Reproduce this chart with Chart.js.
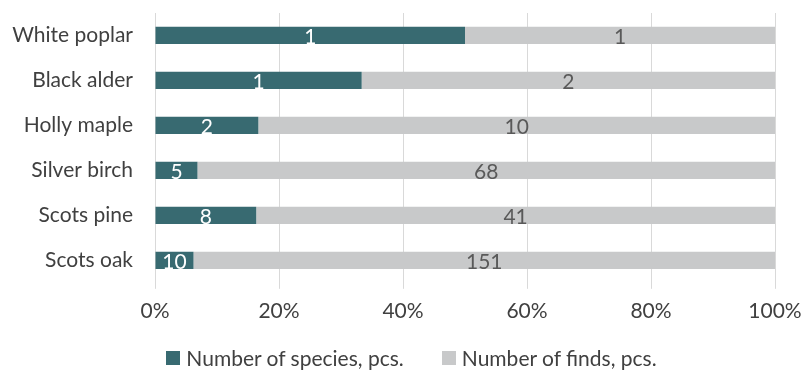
<!DOCTYPE html>
<html>
<head>
<meta charset="utf-8">
<script src="https://cdn.jsdelivr.net/npm/chart.js@4/dist/chart.umd.min.js"></script>
<style>
  html, body { margin: 0; padding: 0; background: #fff; }
  #wrap { width: 803px; height: 371px; position: relative; }
  #legend {
    position: absolute; left: 10px; top: 345px; width: 803px;
    display: flex; justify-content: center; gap: 38px;
    font: 21px Lato, 'Noto Sans', sans-serif; color: #404040;
  }
  #legend span { display: flex; align-items: center; }
  #legend i { display: inline-block; width: 14px; height: 14px; margin-right: 6px; }
</style>
</head>
<body>
<div id="wrap"><canvas id="chart"></canvas><div id="legend"></div></div>
<script>
// species along the y axis, top to bottom
const species = ['White poplar', 'Black alder', 'Holly maple', 'Silver birch', 'Scots pine', 'Scots oak'];
const speciesCount = [1, 1, 2, 5, 8, 10];
const findsCount = [1, 2, 10, 68, 41, 151];
const xTicks = [0, 20, 40, 60, 80, 100];

const fontFamily = "Lato, 'Noto Sans', sans-serif";

// 100% stacked: share of each row
const pct = (arr) => arr.map((v, i) => v / (speciesCount[i] + findsCount[i]) * 100);

// value labels in the middle of each bar segment
const barLabels = {
  id: 'barLabels',
  afterDatasetsDraw(chart) {
    const ctx = chart.ctx;
    ctx.save();
    ctx.font = '21px ' + fontFamily;
    ctx.textAlign = 'center';
    ctx.textBaseline = 'middle';
    chart.data.datasets.forEach((ds, di) => {
      const meta = chart.getDatasetMeta(di);
      meta.data.forEach((bar, i) => {
        const cx = (bar.x + bar.base) / 2;
        ctx.fillStyle = ds.labelColor;
        ctx.fillText(String(ds.raw[i]), cx, bar.y + 2);
      });
    });
    ctx.restore();
  }
};

const chart = new Chart(document.getElementById('chart'), {
  type: 'bar',
  data: {
    labels: species,
    datasets: [
      {
        label: 'Number of species, pcs.',
        data: pct(speciesCount),
        raw: speciesCount,
        labelColor: '#ffffff',
        backgroundColor: '#386a71',
        barPercentage: 0.6,
        categoryPercentage: 0.64
      },
      {
        label: 'Number of finds, pcs.',
        data: pct(findsCount),
        raw: findsCount,
        labelColor: '#595959',
        backgroundColor: '#c8c9ca',
        barPercentage: 0.6,
        categoryPercentage: 0.64
      }
    ]
  },
  options: {
    indexAxis: 'y',
    responsive: true,
    maintainAspectRatio: false,
    animation: false,
    layout: { padding: { left: 0, right: 28, top: 13, bottom: 37 } },
    plugins: {
      legend: { display: false },
      tooltip: { enabled: false }
    },
    scales: {
      x: {
        stacked: true,
        min: 0,
        max: 100,
        afterBuildTicks: (axis) => { axis.ticks = xTicks.map(v => ({ value: v })); },
        afterFit: (axis) => { axis.paddingLeft = 0; axis.paddingRight = 0; },
        ticks: {
          color: '#404040',
          font: { family: fontFamily, size: 21 },
          padding: 10,
          callback: (v) => v + '%'
        },
        grid: { color: '#d9d9d9', lineWidth: 1, tickLength: 6 },
        border: { display: false }
      },
      y: {
        stacked: true,
        afterFit: (axis) => { axis.width = 155; axis.paddingTop = 0; axis.paddingBottom = 0; },
        ticks: {
          color: '#404040',
          font: { family: fontFamily, size: 21 },
          padding: 14
        },
        grid: { display: false },
        border: { display: false }
      }
    }
  },
  plugins: [barLabels]
});

// legend drawn as html under the canvas
document.getElementById('legend').innerHTML = chart.data.datasets
  .map(ds => `<span><i style="background:${ds.backgroundColor}"></i>${ds.label}</span>`)
  .join('');
</script>
</body>
</html>
